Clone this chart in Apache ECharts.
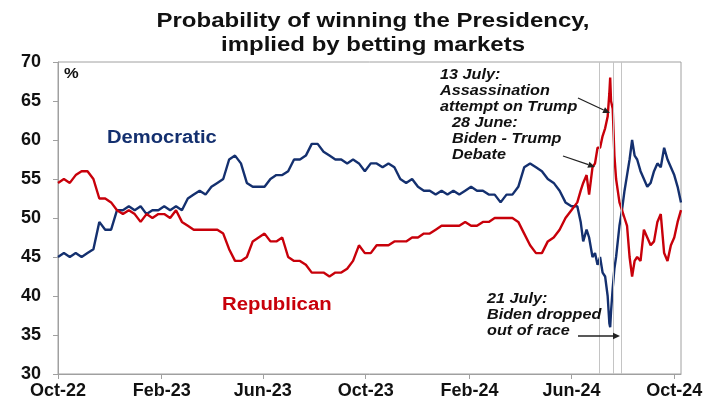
<!DOCTYPE html>
<html>
<head>
<meta charset="utf-8">
<script src="https://cdn.jsdelivr.net/npm/echarts@6/dist/echarts.min.js"></script>
<style>
html,body{margin:0;padding:0;background:#fff;}
#chart{width:715px;height:401px;}
</style>
</head>
<body>
<div id="chart"></div>
<script>
// ---- data ----
const dates = [
'2022-10-01','2022-10-08','2022-10-15','2022-10-22','2022-10-29','2022-11-05','2022-11-12','2022-11-19','2022-11-26','2022-12-03',
'2022-12-10','2022-12-17','2022-12-24','2022-12-31','2023-01-07','2023-01-14','2023-01-21','2023-01-28','2023-02-04','2023-02-11',
'2023-02-18','2023-02-25','2023-03-04','2023-03-11','2023-03-18','2023-03-25','2023-04-01','2023-04-08','2023-04-15','2023-04-22',
'2023-04-29','2023-05-06','2023-05-13','2023-05-20','2023-05-27','2023-06-03','2023-06-10','2023-06-17','2023-06-24','2023-07-01',
'2023-07-08','2023-07-15','2023-07-22','2023-07-29','2023-08-05','2023-08-12','2023-08-19','2023-08-26','2023-09-02','2023-09-09',
'2023-09-16','2023-09-23','2023-09-30','2023-10-07','2023-10-14','2023-10-21','2023-10-28','2023-11-04','2023-11-11','2023-11-18',
'2023-11-25','2023-12-02','2023-12-09','2023-12-16','2023-12-23','2023-12-30','2024-01-06','2024-01-13','2024-01-20','2024-01-27',
'2024-02-03','2024-02-10','2024-02-17','2024-02-24','2024-03-02','2024-03-09','2024-03-16','2024-03-23','2024-03-30','2024-04-06',
'2024-04-13','2024-04-20','2024-04-27','2024-05-04','2024-05-11','2024-05-18','2024-05-25','2024-06-01',
'2024-06-08','2024-06-12','2024-06-15','2024-06-19','2024-06-22','2024-06-26','2024-06-29','2024-07-02','2024-07-05','2024-07-08',
'2024-07-11','2024-07-14','2024-07-16','2024-07-17','2024-07-18','2024-07-20','2024-07-22','2024-07-24','2024-07-26','2024-07-28',
'2024-07-31','2024-08-03','2024-08-06','2024-08-09','2024-08-12','2024-08-15','2024-08-18','2024-08-22','2024-08-26','2024-08-30',
'2024-09-03','2024-09-07','2024-09-11','2024-09-15','2024-09-19','2024-09-23','2024-09-27','2024-10-01','2024-10-05','2024-10-09'
];
const democratic = [
45,45.5,45,45.5,45,45.5,46,49.5,48.5,48.5,
51,51,51.5,51,51.5,50.5,51,51,51.5,51,
51.5,51,52.5,53,53.5,53,54,54.5,55,57.5,
58,57,54.5,54,54,54,55,55.5,55.5,56,
57.5,57.5,58,59.5,59.5,58.5,58,57.5,57.5,57,
57.5,57,56,57,57,56.5,57,56.5,55,54.5,
55,54,53.5,53.5,53,53.5,53,53.5,53,53.5,
54,53.5,53.5,53,53,52,53,53,54,56.5,
57,56.5,56,55,54.5,53.5,52,51.5,
51.5,49.5,47,48.5,47.5,45,45.5,44,45,43,
42.5,40,36.5,36,38,41,43.5,45,47,49,
51,53.5,55.5,57.5,60,58,57.5,56,55,54,
54.5,56,57,56.5,59,57.5,56.5,55.5,54,52
];
const republican = [
54.5,55,54.5,55.5,56,56,55,52.5,52.5,52,
51,50.5,51,50.5,49.5,50.5,50,50.5,50.5,50,
51,49.5,49,48.5,48.5,48.5,48.5,48.5,48,46,
44.5,44.5,45,47,47.5,48,47,47,47.5,45,
44.5,44.5,44,43,43,43,42.5,43,43,43.5,
44.5,46.5,45.5,45.5,46.5,46.5,46.5,47,47,47,
47.5,47.5,48,48,48.5,49,49,49,49,49.5,
49,49,49.5,49.5,50,50,50,50,49.5,48,
46.5,45.5,45.5,47,47.5,48.5,50,51,
52,53.5,54.5,55.5,53,56.5,57,59,59,60.5,
61.5,63,66,68,65,64,58,55,53.5,52,
51,50,49,45,42.5,44.5,45,44.5,48.5,47.5,
46.5,47,49.5,50.5,45.5,44.5,46.5,47.5,49.5,51
];
const xTickDates = ['2022-10-01','2023-02-01','2023-06-01','2023-10-01','2024-02-01','2024-06-01','2024-10-01'];
const eventLineDates = ['2024-07-04','2024-07-21','2024-07-30'];
const xMinDate = '2022-10-01';
const xMaxDate = '2024-10-09';

// ---- helpers ----
const toTs = s => { const p = s.split('-').map(Number); return Date.UTC(p[0], p[1]-1, p[2]); };
const MONTHS = ['Jan','Feb','Mar','Apr','May','Jun','Jul','Aug','Sep','Oct','Nov','Dec'];
const fmt = v => { const d = new Date(v); return MONTHS[d.getUTCMonth()] + '-' + String(d.getUTCFullYear()).slice(2); };

const demData = dates.map((d,i) => [toTs(d), democratic[i]]);
const repData = dates.map((d,i) => [toTs(d), republican[i]]);

const FONT = 'Arial, "Liberation Sans", sans-serif';
const BLUE = '#14306f';
const RED = '#c8000a';

function arrow(x1, y1, x2, y2) {
  const ang = Math.atan2(y2 - y1, x2 - x1);
  const L = 7, W = 3.2;
  const bx = x2 - L*Math.cos(ang), by = y2 - L*Math.sin(ang);
  const px = -Math.sin(ang)*W, py = Math.cos(ang)*W;
  return [
    {type:'line', silent:true, z:10, shape:{x1:x1, y1:y1, x2:bx, y2:by}, style:{stroke:'#222', lineWidth:1.3}},
    {type:'polygon', silent:true, z:10, shape:{points:[[x2,y2],[bx+px,by+py],[bx-px,by-py]]}, style:{fill:'#222'}}
  ];
}
function note(x, y, text) {
  return {type:'text', silent:true, z:10, x:x, y:y, scaleX:1.08,
    style:{text:text, font:'italic bold 15px ' + FONT, fill:'#111', lineHeight:16}};
}
function label(x, y, text, color, size, sx) {
  return {type:'text', silent:true, z:10, x:x, y:y, scaleX:sx,
    style:{text:text, font:'bold ' + size + 'px ' + FONT, fill:color}};
}

const chart = echarts.init(document.getElementById('chart'));
chart.setOption({
  animation: false,
  backgroundColor: '#fff',
  grid: {left: 58, right: 34, top: 62, bottom: 27, show: true, borderColor: '#a0a0a0', borderWidth: 1, backgroundColor: 'transparent'},
  xAxis: {
    type: 'value',
    min: toTs(xMinDate), max: toTs(xMaxDate),
    splitLine: {show: false},
    axisLine: {show: true, lineStyle: {color: '#a0a0a0', width: 1}},
    axisTick: {show: true, length: 5, lineStyle: {color: '#a0a0a0'}, customValues: xTickDates.map(toTs)},
    axisLabel: {customValues: xTickDates.map(toTs), formatter: fmt, fontFamily: FONT, fontWeight: 'bold', fontSize: 18, color: '#111', margin: 8}
  },
  yAxis: {
    type: 'value', min: 30, max: 70, interval: 5,
    splitLine: {show: false},
    axisLine: {show: true, lineStyle: {color: '#a0a0a0', width: 1}},
    axisTick: {show: true, length: 5, inside: false, lineStyle: {color: '#a0a0a0'}},
    axisLabel: {fontFamily: FONT, fontWeight: 'bold', fontSize: 18, color: '#111', margin: 17}
  },
  series: [
    {
      type: 'line', data: [], z: 1, silent: true,
      markLine: {
        silent: true, symbol: ['none','none'], label: {show: false},
        lineStyle: {color: '#c4c4c4', width: 1, type: 'solid'},
        data: eventLineDates.map(d => ({xAxis: toTs(d)}))
      }
    },
    {name: 'Democratic', type: 'line', data: demData, showSymbol: false, z: 3,
      lineStyle: {color: BLUE, width: 2.4}, itemStyle: {color: BLUE}},
    {name: 'Republican', type: 'line', data: repData, showSymbol: false, z: 4,
      lineStyle: {color: RED, width: 2.4}, itemStyle: {color: RED}}
  ],
  graphic: [
    {type:'text', silent:true, x:373, y:9, scaleX:1.2,
      style:{text:'Probability of winning the Presidency,\nimplied by betting markets', align:'center',
        font:'bold 20px ' + FONT, fill:'#111', lineHeight:24}},
    label(64, 66, '%', '#111', 15, 1.1),
    label(107, 129, 'Democratic', BLUE, 18, 1.12),
    label(222, 296, 'Republican', RED, 18, 1.13),
    note(440, 67, '13 July:\nAssassination\nattempt on Trump'),
    note(452, 115, '28 June:\nBiden - Trump\nDebate'),
    note(487, 291, '21 July:\nBiden dropped\nout of race'),
    ...arrow(578, 98, 610, 113),
    ...arrow(563, 156, 595, 167),
    ...arrow(578, 336, 620, 336)
  ]
});
</script>
</body>
</html>
